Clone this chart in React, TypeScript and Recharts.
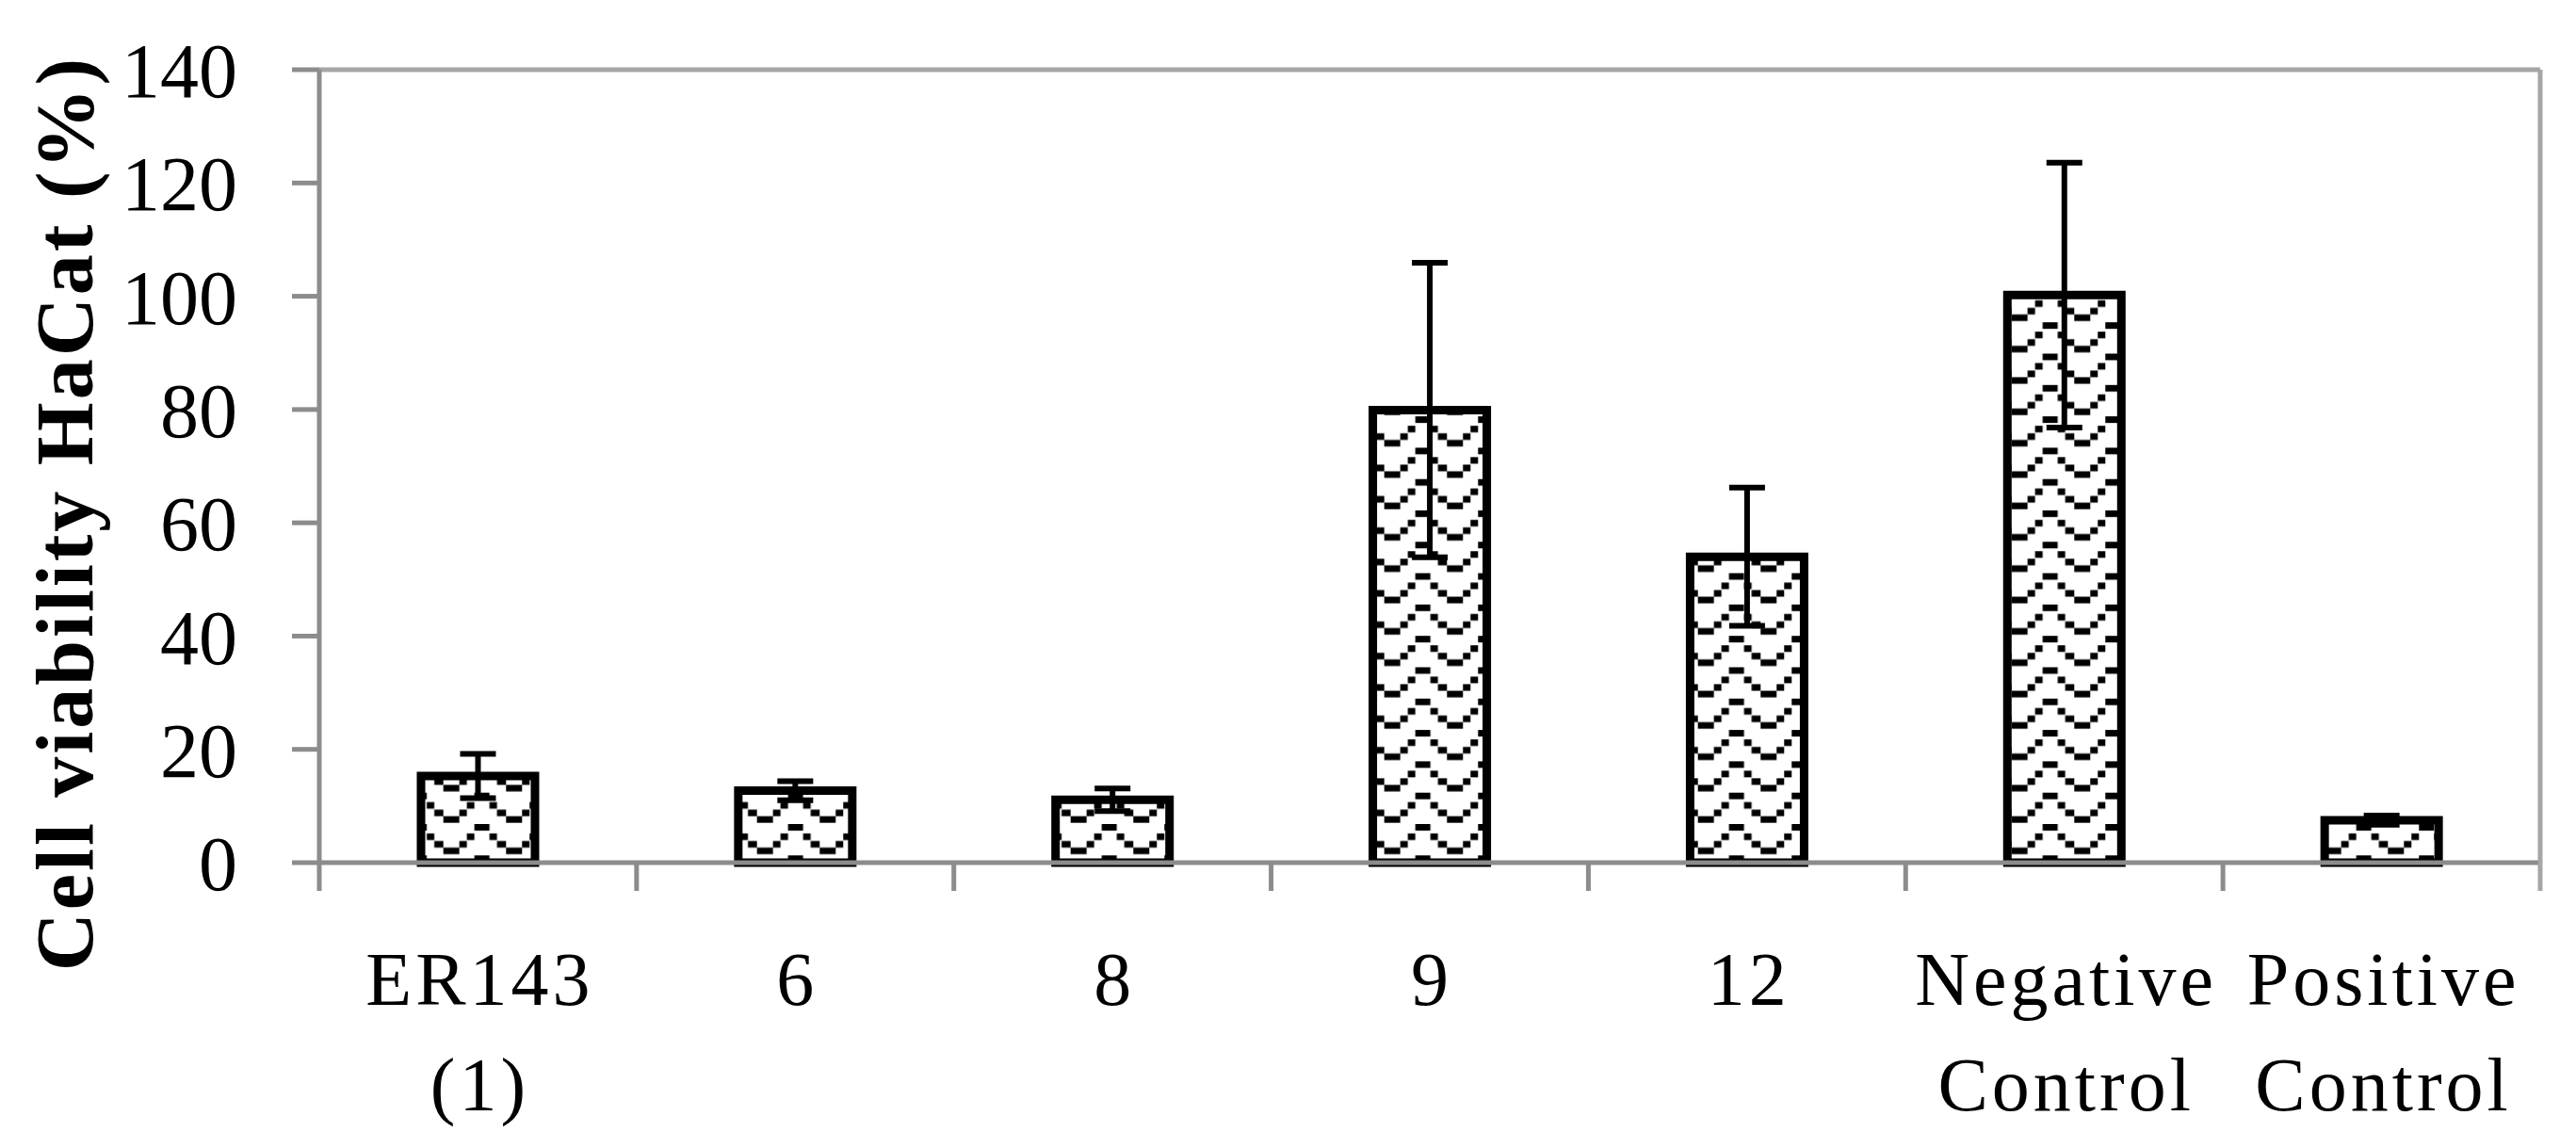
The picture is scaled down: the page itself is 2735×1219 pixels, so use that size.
import { BarChart, Bar, XAxis, YAxis, ErrorBar, ReferenceLine, Label } from "recharts"

const categories = ["ER143\n(1)", "6", "8", "9", "12", "Negative\nControl", "Positive\nControl"]
const viability = [15.3, 12.7, 11.1, 79.9, 54.0, 100.2, 7.5]
const viabilityErr = [3.9, 1.7, 2.0, 26.0, 12.2, 23.4, 0.8]
const yTicks = [0, 20, 40, 60, 80, 100, 120, 140]

const axisGray = "#8c8c8c"
const borderGray = "#a6a6a6"
const serif = "'Liberation Serif', 'Times New Roman', serif"

const chartW = 2735
const chartH = 1219
const yAxisW = 339
const rightW = 38
const bandW = (chartW - yAxisW - rightW) / categories.length

const axisLineStyle = { stroke: axisGray, strokeWidth: 5 }
const borderLineStyle = { stroke: borderGray, strokeWidth: 5 }
const yTickStyle = { fill: "#000", fontSize: 82, fontFamily: serif }
const yDomain = [0, 140]

// wave fill like the Excel pattern, one tile per period
const tileW = 66.6
const tileH = 33.3

// label plus the tick marks that sit between categories
function CategoryTick(props: any) {
  const { x, y, payload, index } = props
  const lines = String(payload.value).split("\n")
  const half = bandW / 2
  return (
    <g>
      <line x1={x - half} x2={x - half} y1={y} y2={y + 30} stroke={axisGray} strokeWidth={5} />
      {index === categories.length - 1 && (
        <line x1={x + half} x2={x + half} y1={y} y2={y + 30} stroke={borderGray} strokeWidth={5} />
      )}
      <text x={x} y={y} textAnchor="middle" fill="#000" fontFamily={serif} fontSize={80} letterSpacing={4}>
        {lines.map((line, i) => (
          <tspan key={i} x={x + 2} dy={i === 0 ? 151 : 112}>
            {line}
          </tspan>
        ))}
      </text>
    </g>
  )
}

function YTitle(props: any) {
  const vb = props.viewBox || { x: 0, y: 74, width: 339, height: 842 }
  const cx = 98
  const cy = vb.y + vb.height / 2 + 50
  return (
    <text
      x={cx}
      y={cy}
      transform={`rotate(-90 ${cx} ${cy})`}
      textAnchor="middle"
      fill="#000"
      fontFamily={serif}
      fontWeight="bold"
      fontSize={86}
      letterSpacing={3}
    >
      Cell viability HaCat (%)
    </text>
  )
}

const catTick = <CategoryTick />
const yTitle = <YTitle />

export default function App() {
  const data = categories.map((name, i) => ({
    name,
    value: viability[i],
    err: viabilityErr[i],
  }))

  return (
    <div style={{ position: "absolute", left: 0, top: 0, width: chartW, height: chartH, background: "#fff" }}>
      <BarChart width={chartW} height={chartH} data={data} margin={{ top: 74, right: 0, left: 0, bottom: 0 }}>
        <defs>
          <pattern id="wave" patternUnits="userSpaceOnUse" x={4.5} y={9.2} width={tileW} height={tileH}>
            <rect x={0} y={0} width={tileW} height={tileH} fill="#fff" />
            <rect x={0} y={25} width={17} height={7} fill="#000" />
            <rect x={17} y={18} width={8} height={7} fill="#000" />
            <rect x={25} y={10} width={8} height={7} fill="#000" />
            <rect x={33} y={0} width={16} height={7} fill="#000" />
            <rect x={49} y={10} width={8} height={7} fill="#000" />
            <rect x={57} y={18} width={tileW - 57} height={7} fill="#000" />
          </pattern>
        </defs>
        <XAxis
          dataKey="name"
          height={303}
          interval={0}
          axisLine={axisLineStyle}
          tickLine={false}
          tickSize={0}
          tickMargin={0}
          tick={catTick}
        />
        <YAxis
          width={yAxisW}
          domain={yDomain}
          ticks={yTicks}
          interval={0}
          tickSize={29}
          tickMargin={58}
          axisLine={axisLineStyle}
          tickLine={axisLineStyle}
          tick={yTickStyle}
        >
          <Label content={yTitle} />
        </YAxis>
        <YAxis
          yAxisId="right"
          orientation="right"
          width={rightW}
          domain={yDomain}
          tick={false}
          tickLine={false}
          axisLine={borderLineStyle}
        />
        <ReferenceLine y={140} stroke={borderGray} strokeWidth={5} />
        <Bar
          dataKey="value"
          fill="url(#wave)"
          stroke="#000"
          strokeWidth={9}
          barSize={121}
          isAnimationActive={false}
        >
          <ErrorBar dataKey="err" direction="y" width={19} stroke="#000" strokeWidth={6} />
        </Bar>
      </BarChart>
    </div>
  )
}
